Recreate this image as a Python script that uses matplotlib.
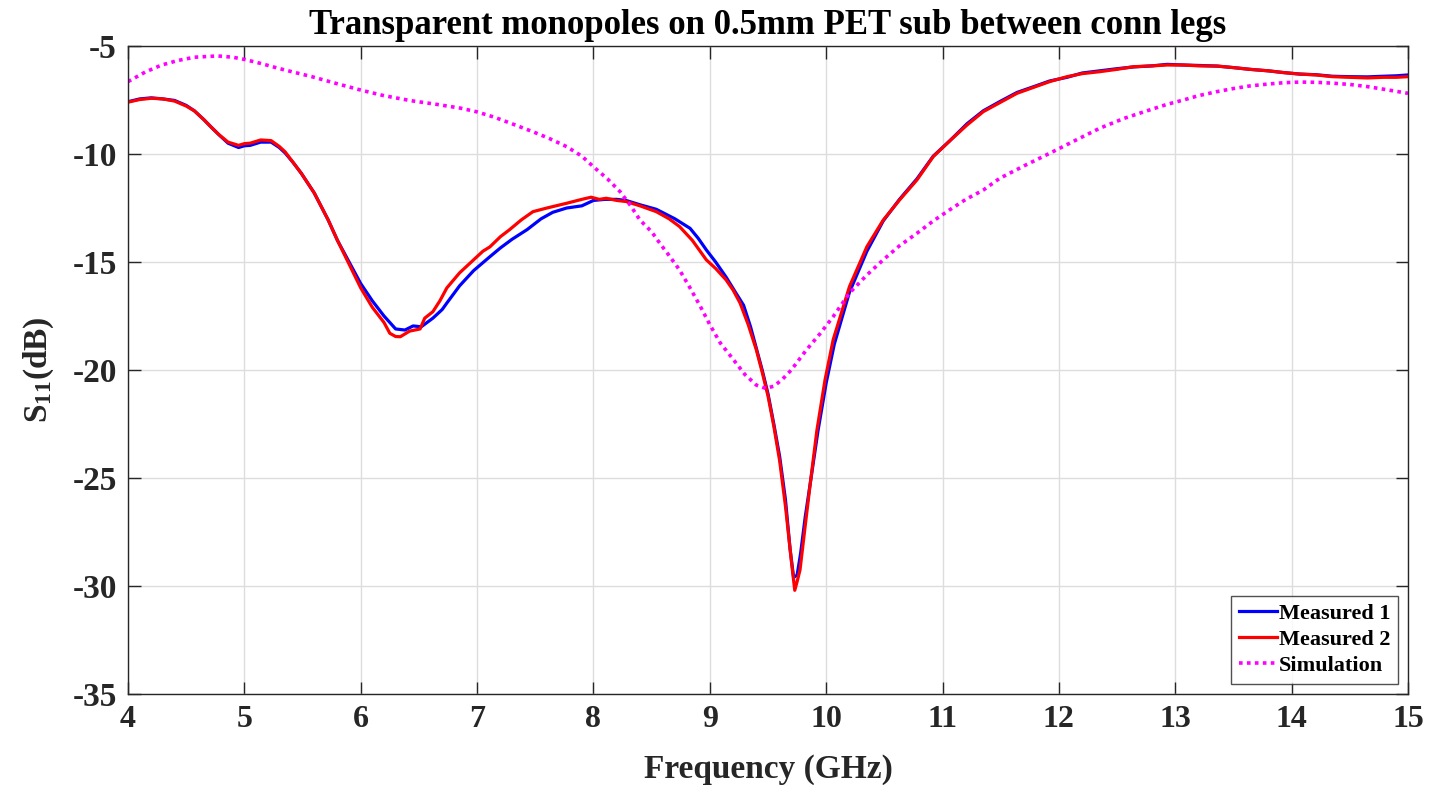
import matplotlib
matplotlib.use("Agg")
import matplotlib.pyplot as plt

# ---- data ----
f_meas1 = [4.0, 4.1, 4.2, 4.3, 4.4, 4.5, 4.57, 4.65, 4.71, 4.78, 4.86, 4.95, 5.0, 5.05, 5.14, 5.23,
           5.3, 5.35, 5.42, 5.49, 5.6, 5.72, 5.8, 5.9, 6.0, 6.1, 6.2, 6.3, 6.38, 6.45, 6.52, 6.62,
           6.7, 6.74, 6.85, 6.97, 7.1, 7.2, 7.3, 7.43, 7.55, 7.65, 7.77, 7.9, 8.0, 8.1, 8.2, 8.28,
           8.4, 8.54, 8.7, 8.83, 8.9, 8.97, 9.05, 9.14, 9.22, 9.29, 9.35, 9.40, 9.45, 9.5, 9.55,
           9.6, 9.65, 9.69, 9.72, 9.75, 9.78, 9.82, 9.87, 9.93, 10.0, 10.07, 10.2, 10.35, 10.49,
           10.63, 10.78, 10.92, 11.06, 11.21, 11.35, 11.5, 11.64, 11.8, 11.92, 12.07, 12.2, 12.35,
           12.5, 12.64, 12.8, 12.93, 13.07, 13.2, 13.36, 13.5, 13.64, 13.8, 13.93, 14.07, 14.21,
           14.35, 14.5, 14.65, 14.79, 14.9, 15.0]
s11_meas1 = [-7.58, -7.45, -7.40, -7.45, -7.52, -7.75, -8.0, -8.4, -8.73, -9.1, -9.5, -9.7, -9.62,
             -9.6, -9.45, -9.45, -9.7, -9.95, -10.4, -10.9, -11.8, -13.05, -14.0, -15.0, -16.0,
             -16.8, -17.5, -18.1, -18.15, -17.96, -18.0, -17.6, -17.2, -16.9, -16.1, -15.4, -14.8,
             -14.35, -13.95, -13.5, -13.0, -12.7, -12.5, -12.4, -12.15, -12.1, -12.1, -12.15,
             -12.35, -12.56, -13.0, -13.44, -13.9, -14.44, -15.0, -15.7, -16.4, -17.0, -18.0,
             -19.0, -20.0, -21.1, -22.5, -24.0, -26.0, -28.3, -29.6, -29.5, -28.5, -26.8, -25.0,
             -22.8, -20.6, -18.8, -16.4, -14.5, -13.1, -12.1, -11.15, -10.1, -9.4, -8.6, -8.0,
             -7.55, -7.15, -6.85, -6.62, -6.45, -6.25, -6.15, -6.05, -5.97, -5.92, -5.85, -5.88,
             -5.9, -5.93, -6.0, -6.08, -6.15, -6.23, -6.3, -6.33, -6.4, -6.42, -6.43, -6.4, -6.38,
             -6.34]

f_meas2 = [4.0, 4.1, 4.2, 4.3, 4.4, 4.5, 4.57, 4.65, 4.71, 4.78, 4.86, 4.95, 5.0, 5.05, 5.14, 5.23,
           5.3, 5.35, 5.42, 5.49, 5.6, 5.72, 5.8, 5.9, 6.0, 6.1, 6.2, 6.25, 6.3, 6.34, 6.42, 6.51,
           6.55, 6.62, 6.68, 6.74, 6.85, 6.97, 7.05, 7.11, 7.2, 7.28, 7.38, 7.48, 7.6, 7.77, 7.9,
           7.98, 8.05, 8.11, 8.2, 8.28, 8.4, 8.54, 8.65, 8.74, 8.85, 8.97, 9.05, 9.14, 9.2, 9.26,
           9.33, 9.40, 9.45, 9.5, 9.55, 9.6, 9.65, 9.7, 9.73, 9.75, 9.775, 9.82, 9.86, 9.92, 9.99,
           10.06, 10.2, 10.35, 10.49, 10.63, 10.78, 10.92, 11.06, 11.21, 11.35, 11.5, 11.64, 11.8,
           11.92, 12.07, 12.2, 12.35, 12.5, 12.64, 12.8, 12.93, 13.07, 13.2, 13.36, 13.5, 13.64,
           13.8, 13.93, 14.07, 14.21, 14.35, 14.5, 14.65, 14.79, 14.9, 15.0]
s11_meas2 = [-7.6, -7.48, -7.42, -7.45, -7.55, -7.78, -8.0, -8.4, -8.73, -9.1, -9.45, -9.6, -9.52,
             -9.5, -9.35, -9.38, -9.65, -9.9, -10.4, -10.9, -11.8, -13.05, -14.0, -15.1, -16.2,
             -17.1, -17.8, -18.3, -18.45, -18.46, -18.2, -18.1, -17.6, -17.3, -16.8, -16.2, -15.5,
             -14.9, -14.5, -14.3, -13.83, -13.5, -13.05, -12.67, -12.5, -12.28, -12.1, -12.0,
             -12.1, -12.05, -12.15, -12.2, -12.4, -12.67, -13.0, -13.36, -14.0, -14.9, -15.3,
             -15.83, -16.3, -16.9, -17.9, -19.07, -20.1, -21.2, -22.6, -24.2, -26.3, -28.8, -30.2,
             -29.8, -29.26, -27.2, -25.4, -22.8, -20.46, -18.6, -16.14, -14.29, -13.06, -12.13,
             -11.2, -10.12, -9.4, -8.66, -8.04, -7.6, -7.19, -6.88, -6.65, -6.42, -6.28, -6.19,
             -6.08, -5.96, -5.92, -5.88, -5.88, -5.92, -5.93, -6.0, -6.08, -6.15, -6.23, -6.3,
             -6.34, -6.42, -6.45, -6.48, -6.45, -6.45, -6.42]

f_sim = [4.0, 4.15, 4.29, 4.43, 4.57, 4.77, 4.9, 5.0, 5.15, 5.29, 5.43, 5.58, 5.8, 6.0, 6.2, 6.43,
         6.65, 6.86, 7.0, 7.15, 7.3, 7.48, 7.62, 7.77, 7.9, 8.0, 8.12, 8.23, 8.32, 8.4, 8.5, 8.57,
         8.65, 8.74, 8.83, 8.92, 9.0, 9.09, 9.2, 9.3, 9.4, 9.48, 9.55, 9.62, 9.7, 9.83, 9.95,
         10.06, 10.2, 10.35, 10.49, 10.63, 10.78, 10.92, 11.06, 11.2, 11.35, 11.49, 11.7, 11.92,
         12.13, 12.35, 12.56, 12.78, 12.93, 13.07, 13.2, 13.36, 13.5, 13.64, 13.8, 13.93, 14.07,
         14.21, 14.35, 14.5, 14.65, 14.79, 14.9, 15.0]
s11_sim = [-6.65, -6.2, -5.88, -5.67, -5.52, -5.46, -5.52, -5.62, -5.82, -6.03, -6.22, -6.42,
           -6.75, -7.04, -7.3, -7.53, -7.7, -7.88, -8.05, -8.3, -8.6, -8.97, -9.28, -9.66, -10.1,
           -10.59, -11.15, -11.75, -12.4, -13.06, -13.6, -14.13, -14.7, -15.37, -16.2, -17.07,
           -17.9, -18.75, -19.5, -20.2, -20.7, -20.85, -20.75, -20.45, -20.0, -19.07, -18.3,
           -17.53, -16.44, -15.6, -14.9, -14.25, -13.67, -13.1, -12.59, -12.1, -11.67, -11.13,
           -10.55, -9.97, -9.4, -8.81, -8.35, -7.96, -7.7, -7.5, -7.3, -7.11, -6.97, -6.85, -6.76,
           -6.7, -6.67, -6.68, -6.72, -6.78, -6.88, -7.0, -7.1, -7.19]

series_labels = ["Measured 1", "Measured 2", "Simulation"]
x_ticks = [4, 5, 6, 7, 8, 9, 10, 11, 12, 13, 14, 15]
y_ticks = [-35, -30, -25, -20, -15, -10, -5]
title = "Transparent monopoles on 0.5mm PET sub between conn legs"

# ---- plot ----
plt.rcParams['font.family'] = ['Liberation Serif', 'DejaVu Serif']
plt.rcParams['font.weight'] = 'bold'
plt.rcParams['mathtext.fontset'] = 'custom'
plt.rcParams['mathtext.rm'] = 'Liberation Serif:bold'
plt.rcParams['mathtext.it'] = 'Liberation Serif:bold'
plt.rcParams['mathtext.bf'] = 'Liberation Serif:bold'

fig = plt.figure(figsize=(14.49, 7.85), dpi=100)
ax = fig.add_axes([128/1449, 1 - 694/785, (1408-128)/1449, (694-46)/785])

ax.plot(f_meas1, s11_meas1, color='#0000ff', lw=2.3, label=series_labels[0])
ax.plot(f_meas2, s11_meas2, color='#ff0000', lw=2.3, label=series_labels[1])
ax.plot(f_sim, s11_sim, color='#ff00ff', lw=2.6, linestyle=(0, (1, 1.2)), label=series_labels[2])

ax.set_xlim(4, 15)
ax.set_ylim(-35, -5)
ax.set_xticks(x_ticks)
ax.set_yticks(y_ticks)
ax.set_xticklabels([str(t) for t in x_ticks], fontsize=23, fontweight='bold')
ax.set_yticklabels([str(t) for t in y_ticks], fontsize=24, fontweight='bold')
ax.tick_params(direction='in', length=9, width=1, top=True, right=True, colors='#262626',
               labelcolor='#262626', pad=8)
ax.grid(True, color='#dddddd', lw=1)
for s in ax.spines.values():
    s.set_color('#262626')
    s.set_linewidth(1.0)

ax.set_xlabel("Frequency (GHz)", fontsize=24, fontweight='bold', color='#262626', labelpad=14)
ax.set_ylabel(r"S$_{11}$(dB)", fontsize=24, fontweight='bold', color='#262626', labelpad=12)
ax.set_title(title, fontsize=25, fontweight='bold', pad=9)

leg = ax.legend(loc='lower right', fontsize=16, frameon=True, fancybox=False,
                edgecolor='#262626', handlelength=1.7, handletextpad=0.1,
                borderpad=0.35, labelspacing=0.25, borderaxespad=0.45)
leg.get_frame().set_linewidth(1.0)
for t in leg.get_texts():
    t.set_fontweight('bold')

fig.savefig("out.png", dpi=100)
